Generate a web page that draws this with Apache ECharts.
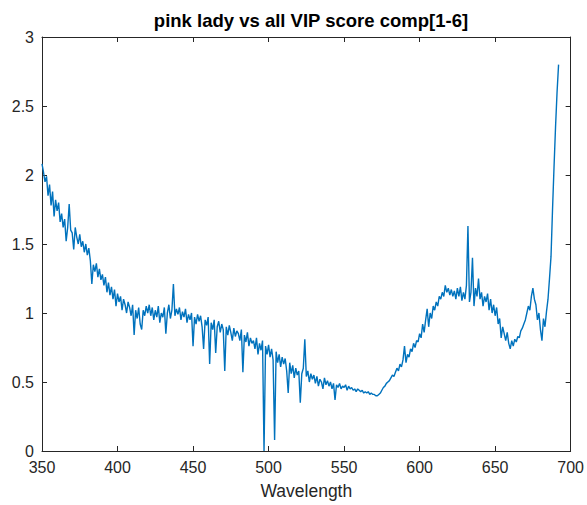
<!DOCTYPE html>
<html>
<head>
<meta charset="utf-8">
<script src="https://cdn.jsdelivr.net/npm/echarts@6/dist/echarts.min.js"></script>
<style>
html, body { margin: 0; padding: 0; background: #fff; }
#main { width: 587px; height: 505px; }
</style>
</head>
<body>
<div id="main"></div>
<script>
// sampling grid of the spectrum (nm)
var wavelengthStart = 350;
var wavelengthStep = 1;

// VIP score, one value per nm from 350 to 692
var vipScore = [
  2.08, 2.02, 1.95, 1.99, 1.85, 1.93, 1.78, 1.88, 1.70, 1.82,
  1.74, 1.80, 1.66, 1.72, 1.62, 1.68, 1.52, 1.62, 1.79, 1.60,
  1.58, 1.46, 1.62, 1.55, 1.50, 1.57, 1.48, 1.52, 1.44, 1.50,
  1.42, 1.47, 1.38, 1.21, 1.35, 1.30, 1.36, 1.26, 1.32, 1.24,
  1.28, 1.20, 1.26, 1.15, 1.22, 1.13, 1.19, 1.10, 1.17, 1.05,
  1.14, 1.08, 1.12, 1.02, 1.10, 1.06, 1.00, 1.08, 1.04, 0.98,
  1.06, 0.84, 1.02, 0.96, 1.04, 0.92, 0.88, 1.02, 0.98, 1.05,
  1.00, 1.06, 0.98, 1.04, 0.95, 1.02, 0.97, 1.05, 0.93, 1.00,
  0.97, 1.04, 0.85, 1.00, 1.06, 0.96, 1.02, 1.21, 0.98, 1.03,
  0.99, 1.04, 0.95, 1.01, 0.97, 1.03, 0.93, 0.99, 0.95, 1.00,
  0.76, 0.97, 0.92, 0.99, 0.94, 0.98, 0.90, 0.74, 0.95, 0.91,
  0.97, 0.63, 0.93, 0.88, 0.95, 0.71, 0.90, 0.94, 0.86, 0.92,
  0.88, 0.58, 0.90, 0.84, 0.91, 0.86, 0.80, 0.89, 0.83, 0.87,
  0.85, 0.80, 0.88, 0.57, 0.84, 0.79, 0.86, 0.76, 0.82, 0.78,
  0.80, 0.74, 0.82, 0.70, 0.78, 0.73, 0.80, 0.00, 0.76, 0.70,
  0.77, 0.68, 0.74, 0.66, 0.08, 0.72, 0.64, 0.70, 0.61, 0.68,
  0.63, 0.67, 0.58, 0.42, 0.64, 0.56, 0.62, 0.53, 0.60, 0.55,
  0.58, 0.35, 0.56, 0.60, 0.81, 0.54, 0.58, 0.50, 0.56, 0.52,
  0.55, 0.49, 0.54, 0.47, 0.52, 0.50, 0.45, 0.53, 0.48, 0.51,
  0.47, 0.50, 0.45, 0.49, 0.37, 0.48, 0.46, 0.49, 0.45, 0.47,
  0.46, 0.48, 0.44, 0.47, 0.45, 0.46, 0.44, 0.45, 0.43, 0.45,
  0.44, 0.43, 0.44, 0.42, 0.43, 0.42, 0.43, 0.41, 0.42, 0.41,
  0.41, 0.40, 0.40, 0.41, 0.42, 0.44, 0.46, 0.47, 0.49, 0.50,
  0.51, 0.53, 0.55, 0.54, 0.57, 0.60, 0.58, 0.63, 0.61, 0.66,
  0.76, 0.64, 0.70, 0.68, 0.74, 0.72, 0.78, 0.75, 0.80, 0.79,
  0.85, 0.82, 0.92, 0.86, 0.95, 1.03, 0.90, 1.00, 0.96, 1.05,
  1.02, 1.08, 1.05, 1.12, 1.10, 1.15, 1.12, 1.20, 1.15, 1.18,
  1.13, 1.17, 1.12, 1.16, 1.10, 1.18, 1.12, 1.19, 1.09, 1.15,
  1.10, 1.20, 1.63, 1.08, 1.15, 1.40, 1.05, 1.18, 1.12, 1.25,
  1.10, 1.15, 1.05, 1.12, 1.08, 1.14, 1.02, 1.10, 1.00, 1.06,
  0.98, 1.04, 0.92, 0.96, 0.82, 0.90, 0.85, 0.80, 0.86, 0.78,
  0.74, 0.80, 0.76, 0.81, 0.79, 0.83, 0.82, 0.87, 0.89, 0.92,
  0.95, 1.00, 1.05, 1.02, 1.12, 1.18, 1.10, 1.06, 0.95, 1.00,
  0.88, 0.80, 0.96, 0.90, 1.01, 1.10, 1.25, 1.41, 1.75, 2.06,
  2.35, 2.60, 2.80
];

var xTicks = [350, 400, 450, 500, 550, 600, 650, 700];
var yTicks = [0, 0.5, 1, 1.5, 2, 2.5, 3];

var axisColor = '#262626';

var seriesData = vipScore.map(function (v, i) {
  return [wavelengthStart + i * wavelengthStep, v];
});

function makeAxis(ticks, pos, showLabels) {
  return {
    type: 'value',
    position: pos,
    min: ticks[0],
    max: ticks[ticks.length - 1],
    interval: ticks[1] - ticks[0],
    axisLine: { show: true, onZero: false, lineStyle: { color: axisColor, width: 1 } },
    axisTick: { show: true, inside: true, length: 5, lineStyle: { color: axisColor } },
    axisLabel: {
      show: showLabels,
      color: axisColor,
      fontSize: 16,
      fontFamily: 'Liberation Sans, Arial, sans-serif',
      margin: 8
    },
    splitLine: { show: false }
  };
}

var myChart = echarts.init(document.getElementById('main'), null, { renderer: 'svg' });

var xBottom = makeAxis(xTicks, 'bottom', true);
xBottom.name = 'Wavelength';
xBottom.nameLocation = 'middle';
xBottom.nameGap = 31;
xBottom.nameTextStyle = { color: axisColor, fontSize: 17.5, fontFamily: 'Liberation Sans, Arial, sans-serif' };

myChart.setOption({
  animation: false,
  title: {
    text: 'pink lady vs all VIP score comp[1-6]',
    left: 306,
    top: 6,
    textAlign: 'center',
    textStyle: { color: '#000', fontSize: 18.5, fontWeight: 'bold', fontFamily: 'Liberation Sans, Arial, sans-serif' }
  },
  grid: { left: 42, right: 15, top: 37, bottom: 52, containLabel: false },
  xAxis: [xBottom, makeAxis(xTicks, 'top', false)],
  yAxis: [makeAxis(yTicks, 'left', true), makeAxis(yTicks, 'right', false)],
  series: [
    {
      type: 'line',
      data: seriesData,
      showSymbol: false,
      symbol: 'none',
      lineStyle: { color: '#0072BD', width: 1.4 },
      silent: true
    }
  ]
});
</script>
</body>
</html>
